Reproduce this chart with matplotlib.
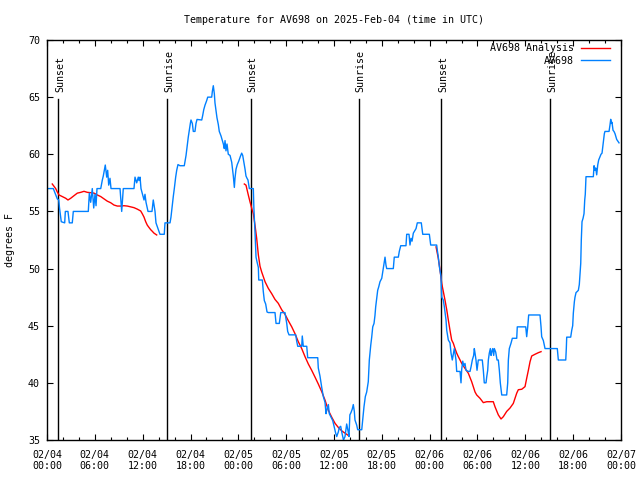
import matplotlib
matplotlib.use("Agg")
import matplotlib.pyplot as plt
from matplotlib.ticker import FixedLocator, MultipleLocator

# ---------------- data ----------------
title = "Temperature for AV698 on 2025-Feb-04 (time in UTC)"
ylabel = "degrees F"
tick_hours = list(range(0, 73, 6))  # hours since 02/04 00:00 UTC
tick_labels = ["02/04\n00:00", "02/04\n06:00", "02/04\n12:00", "02/04\n18:00",
               "02/05\n00:00", "02/05\n06:00", "02/05\n12:00", "02/05\n18:00",
               "02/06\n00:00", "02/06\n06:00", "02/06\n12:00", "02/06\n18:00",
               "02/07\n00:00"]
sun_hours = [1.42, 15.09, 25.53, 39.17, 49.46, 63.13]
sun_labels = ["Sunset", "Sunrise", "Sunset", "Sunrise", "Sunset", "Sunrise"]

obs_hours = [0.00, 0.79, 1.29, 1.47, 1.57, 1.79, 2.22, 2.30, 2.63, 2.80, 3.17, 3.30, 5.18, 5.31, 5.48,
             5.68, 5.86, 6.02, 6.15, 6.27, 6.74, 6.94, 7.06, 7.31, 7.49, 7.61, 7.74, 7.90, 8.03, 9.16,
             9.37, 9.57, 10.91, 11.04, 11.25, 11.45, 11.54, 11.67, 11.79, 12.17, 12.29, 12.42, 12.67,
             13.17, 13.33, 13.55, 13.67, 13.92, 14.17, 14.71, 14.80, 15.43, 15.55, 15.72, 15.84, 15.97,
             16.14, 16.27, 16.43, 16.68, 17.22, 17.35, 17.44, 17.60, 17.72, 17.85, 17.98, 18.06, 18.23,
             18.35, 18.56, 18.69, 18.82, 19.41, 19.53, 19.66, 19.82, 20.03, 20.16, 20.66, 20.74, 20.86,
             20.99, 21.07, 21.20, 21.32, 21.49, 21.61, 21.83, 21.99, 22.12, 22.24, 22.33, 22.45, 22.58,
             22.74, 22.96, 23.17, 23.37, 23.50, 23.58, 23.71, 23.87, 24.05, 24.25, 24.42, 24.55, 24.67,
             24.84, 24.96, 25.09, 25.21, 25.38, 25.88, 25.95, 26.09, 26.22, 26.34, 26.51, 26.56, 27.01,
             27.13, 27.26, 27.43, 27.60, 27.76, 28.60, 28.73, 29.14, 29.32, 29.85, 30.07, 30.19, 30.36,
             31.20, 31.32, 31.45, 31.95, 32.02, 32.15, 32.58, 32.70, 33.96, 34.03, 34.24, 34.46, 34.66,
             34.87, 35.00, 35.12, 35.29, 35.41, 35.62, 35.84, 36.04, 36.21, 36.34, 36.54, 36.67, 36.84,
             37.00, 37.19, 37.38, 37.59, 37.76, 37.88, 37.99, 38.13, 38.29, 38.42, 38.55, 38.63, 38.85,
             38.97, 39.48, 39.60, 39.76, 39.93, 40.10, 40.30, 40.43, 40.61, 40.73, 40.86, 41.02, 41.14,
             41.23, 41.36, 41.48, 41.61, 41.77, 41.99, 42.11, 42.27, 42.40, 42.52, 42.61, 43.44, 43.56,
             44.07, 44.19, 44.37, 45.03, 45.12, 45.41, 45.53, 45.66, 45.79, 45.95, 46.29, 46.45, 46.95,
             47.13, 47.96, 48.13, 48.88, 48.96, 49.08, 49.21, 49.42, 49.51, 49.71, 49.84, 50.05, 50.14,
             50.34, 50.55, 50.68, 50.84, 50.97, 51.09, 51.18, 51.30, 51.39, 51.81, 51.93, 52.02, 52.15,
             52.27, 52.43, 52.56, 52.85, 53.06, 53.19, 53.35, 53.52, 53.60, 53.69, 53.81, 53.94, 54.03,
             54.10, 54.60, 54.73, 54.85, 55.07, 55.16, 55.28, 55.36, 55.48, 55.61, 55.70, 55.78, 55.91,
             56.03, 56.11, 56.28, 56.45, 56.61, 56.74, 56.86, 57.04, 57.66, 57.79, 57.87, 57.99, 58.20,
             58.37, 58.92, 58.99, 60.05, 60.17, 60.30, 60.42, 61.84, 61.97, 62.05, 62.26, 62.47, 64.01,
             64.14, 65.07, 65.14, 65.19, 65.69, 65.82, 65.94, 66.02, 66.15, 66.23, 66.36, 66.52, 66.65,
             66.77, 66.86, 66.95, 67.02, 67.11, 67.24, 67.36, 67.45, 67.52, 67.61, 68.53, 68.62, 68.74,
             68.83, 68.95, 69.08, 69.20, 69.37, 69.49, 69.62, 69.78, 69.91, 69.99, 70.50, 70.62, 70.71,
             70.79, 70.87, 71.00, 71.12, 71.25, 71.46, 71.66, 71.75]
obs_temp = [57.0, 57.0, 56.1, 56.0, 55.3, 54.1, 54.0, 55.0, 55.0, 54.0, 54.0, 55.0, 55.0, 56.6, 55.8,
            57.0, 55.3, 56.5, 55.5, 57.0, 57.0, 57.75, 58.1, 59.06, 58.0, 58.6, 57.3, 57.9, 57.0, 57.0,
            55.0, 57.0, 57.0, 58.0, 57.5, 58.0, 57.7, 58.0, 57.0, 56.0, 56.5, 55.8, 55.0,
            55.0, 56.0, 55.0, 54.0, 53.5, 53.0, 53.0, 54.0, 54.0, 54.5, 55.6, 56.3, 57.0,
            58.0, 58.6, 59.1, 59.0, 59.0, 59.5, 59.9, 60.8, 61.5, 62.1, 62.7, 63.0, 62.7,
            62.0, 62.0, 62.7, 63.05, 63.0, 63.4, 63.9, 64.3, 64.7, 65.0, 65.0, 65.5, 66.0,
            65.3, 64.5, 63.8, 63.2, 62.6, 62.0, 61.6, 61.2, 60.9, 60.5, 61.2, 60.3, 60.9,
            60.0, 59.9, 59.3, 58.1, 57.1, 57.9, 58.7, 59.1, 59.4, 59.8, 60.1, 59.9, 59.4,
            58.7, 58.1, 57.9, 57.75, 57.0, 57.0, 55.3, 53.2, 51.0, 50.6, 50.1, 49.0, 49.0,
            48.0, 47.2, 46.9, 46.2, 46.15, 46.15, 45.2, 45.2, 46.15, 46.15, 45.2, 44.5, 44.2,
            44.2, 43.65, 43.2, 43.2, 44.1, 43.2, 43.2, 42.2, 42.2, 41.3, 40.6, 39.6, 38.8,
            38.3, 37.3, 37.7, 38.1, 37.3, 37.0, 36.7, 36.1, 35.6, 35.3, 35.7, 36.1, 36.2,
            35.6, 35.0, 35.3, 36.4, 35.8, 35.3, 37.2, 37.4, 37.7, 38.1, 37.5, 36.75, 36.3,
            35.9, 35.9, 36.75, 37.9, 38.8, 39.2, 40.1, 42.0, 43.3, 44.0, 44.9, 45.2, 45.9,
            46.66, 47.4, 48.1, 48.4, 48.85, 49.15, 49.7, 50.46, 51.0, 50.3, 50.0, 50.0, 51.0,
            51.0, 51.5, 52.0, 52.0, 53.0, 53.0, 52.06, 52.65, 52.4, 53.1, 53.5, 54.0, 54.0,
            53.0, 53.0, 52.06, 52.06, 51.6, 51.04, 50.2, 49.3, 47.5, 47.25, 46.66, 45.5, 44.6,
            43.75, 43.5, 42.6, 42.0, 42.5, 43.0, 42.6, 42.0, 41.0, 41.0, 40.0, 41.2, 41.9,
            41.5, 41.7, 41.1, 41.0, 41.0, 41.4, 42.0, 42.4, 43.0, 42.6, 42.0, 41.1, 41.6,
            42.0, 42.0, 41.1, 40.0, 40.0, 40.54, 41.1, 42.0, 42.6, 43.0, 42.4, 42.7, 43.0,
            42.4, 43.0, 42.7, 42.0, 42.0, 41.1, 40.0, 38.94, 38.94, 40.0, 42.0, 43.0, 43.46,
            43.9, 43.9, 44.9, 44.9, 44.04, 44.9, 45.94, 45.94, 44.9, 44.04, 43.7, 43.0, 43.0,
            42.0, 42.0, 43.0, 44.0, 44.0, 44.6, 45.0, 46.1, 47.1, 47.5, 47.9, 48.0, 48.1,
            48.6, 49.6, 50.46, 52.5, 54.1, 54.4, 54.8, 56.0, 56.5, 58.04, 58.04, 59.0, 58.6,
            58.8, 58.2, 59.06, 59.5, 59.8, 60.0, 60.1, 61.0, 61.8, 62.0, 62.0, 62.56, 63.06,
            62.7, 62.8, 62.1, 62.0, 61.8, 61.3, 61.1, 61.0]

ana1_hours = [0.66, 1.09, 1.29, 1.51, 1.92, 2.35, 2.63, 2.97, 3.39, 3.80, 4.23, 4.64, 5.06, 5.48, 5.90,
              6.31, 6.74, 7.15, 7.56, 7.99, 8.40, 8.82, 9.24, 9.66, 10.07, 10.50, 10.91, 11.33, 11.75,
              11.95, 12.17, 12.38, 12.58, 12.79, 13.01, 13.21, 13.42, 13.76]
ana1_temp = [57.4, 57.0, 56.7, 56.44, 56.3, 56.15, 56.0, 56.15, 56.38, 56.6, 56.67, 56.76, 56.67, 56.64,
             56.6, 56.44, 56.3, 56.1, 55.9, 55.76, 55.56, 55.47, 55.47, 55.5, 55.47, 55.4, 55.33, 55.2,
             55.04, 54.8, 54.5, 54.1, 53.8, 53.6, 53.4, 53.26, 53.1, 52.94]
ana2_hours = [24.75, 24.96, 25.25, 25.46, 25.68, 25.88, 26.09, 26.30, 26.51, 26.72, 26.93, 27.13, 27.35,
              27.76, 28.19, 28.60, 29.01, 29.44, 29.85, 30.27, 30.70, 31.11, 31.52, 31.95, 32.36, 32.78,
              33.20, 33.62, 34.03, 34.46, 34.87, 35.29, 35.71, 36.13, 36.54, 36.97, 37.38, 37.79]
ana2_temp = [57.4, 57.3, 56.44, 55.85, 55.27, 54.8, 53.8, 52.65, 51.2, 50.2, 49.7, 49.3, 48.85, 48.27,
             47.8, 47.3, 46.96, 46.4, 46.0, 45.44, 44.9, 44.3, 43.6, 43.0, 42.3, 41.65, 41.1, 40.5, 39.9,
             39.23, 38.5, 37.6, 37.0, 36.46, 36.1, 35.8, 35.6, 35.4]
ana3_hours = [48.80, 49.08, 49.30, 49.51, 49.71, 49.92, 50.14, 50.34, 50.55, 50.76, 50.97, 51.18, 51.39,
              51.59, 51.81, 52.02, 52.43, 52.85, 53.27, 53.69, 53.90, 54.31, 54.73, 55.16, 55.57, 55.98,
              56.20, 56.61, 56.95, 57.24, 57.66, 58.08, 58.49, 58.92, 59.12, 59.55, 59.96, 60.17, 60.38,
              60.59, 60.80, 61.21, 61.63, 61.97]
ana3_temp = [51.9, 50.9, 49.9, 48.7, 48.0, 47.25, 46.4, 45.5, 44.6, 43.75, 43.46, 43.0, 42.6, 42.3, 42.0,
             41.7, 41.27, 40.84, 40.1, 39.2, 38.94, 38.65, 38.27, 38.35, 38.35, 38.35, 37.9, 37.2, 36.84,
             37.04, 37.5, 37.8, 38.2, 39.1, 39.4, 39.44, 39.67, 40.4, 41.1, 41.85, 42.35, 42.5, 42.64,
             42.73]

# ---------------- plot ----------------
FONT = "DejaVu Sans Mono"
FS = 7.2
plt.rcParams["font.family"] = [FONT]
plt.rcParams["font.size"] = FS

fig = plt.figure(figsize=(6.4, 4.8), dpi=100)
ax = fig.add_axes([47 / 640, 40 / 480, 574 / 640, 400 / 480])

RED = "#ff0000"
BLUE = "#0080ff"
LW = 1.0

ax.plot(ana1_hours, ana1_temp, color=RED, lw=LW, label="AV698 Analysis")
ax.plot(ana2_hours, ana2_temp, color=RED, lw=LW)
ax.plot(ana3_hours, ana3_temp, color=RED, lw=LW)
ax.plot(obs_hours, obs_temp, color=BLUE, lw=LW, label="AV698")

for h, lab in zip(sun_hours, sun_labels):
    ax.plot([h, h], [35, 64.85], color="black", lw=1.0, zorder=1)
    ax.text(h + 0.2, 65.45, lab, rotation=90, ha="center", va="bottom",
            fontsize=FS, family=FONT)

ax.set_xlim(0, 72)
ax.set_ylim(35, 70)
ax.xaxis.set_major_locator(FixedLocator(tick_hours))
ax.set_xticklabels(tick_labels)
ax.xaxis.set_minor_locator(MultipleLocator(2))
ax.yaxis.set_major_locator(MultipleLocator(5))
ax.tick_params(axis="both", which="both", direction="in", top=True, right=True, width=0.8)
ax.tick_params(axis="both", which="major", length=4.5)
ax.tick_params(axis="both", which="minor", length=2.2)
ax.tick_params(axis="x", which="major", pad=7, labelsize=FS)
ax.tick_params(axis="y", which="major", pad=5, labelsize=FS)
for sp in ax.spines.values():
    sp.set_linewidth(1.0)

fig.text(334 / 640, 1 - 20 / 480, title, ha="center", va="center", fontsize=FS, family=FONT)
fig.text(10 / 640, 0.5, ylabel, rotation=90, ha="center", va="center", fontsize=FS, family=FONT)

leg = ax.legend(loc="upper right", bbox_to_anchor=(610 / 640, 1 - 43 / 480),
                bbox_transform=fig.transFigure, frameon=False, markerfirst=False,
                handlelength=2.9, handletextpad=0.7, labelspacing=0.25, borderpad=0,
                borderaxespad=0, fontsize=FS)

fig.savefig("out.png", dpi=100)
